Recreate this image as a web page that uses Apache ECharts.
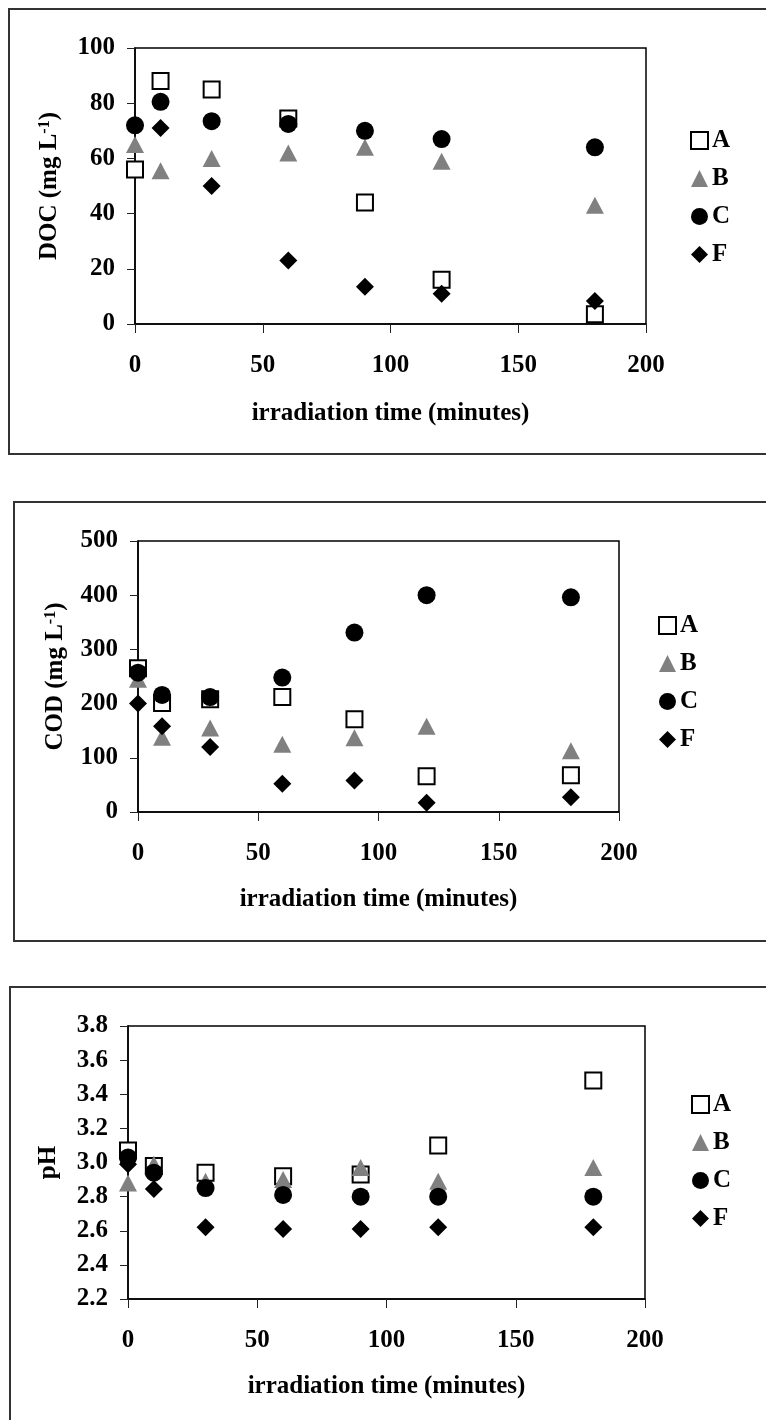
<!DOCTYPE html>
<html>
<head>
<meta charset="utf-8">
<script src="https://cdn.jsdelivr.net/npm/echarts@6/dist/echarts.min.js"></script>
<style>
html,body{margin:0;padding:0;background:#fff;}
#c{width:766px;height:1420px;}
</style>
</head>
<body>
<div id="c"></div>
<script>
// ---- data ----
var times = [0, 10, 30, 60, 90, 120, 180];
var seriesNames = ['A', 'B', 'C', 'F'];
var xTicks = [0, 50, 100, 150, 200];

var docA = [56, 88, 85, 74.5, 44, 16, 3.5];
var docB = [65, 55.5, 60, 62, 64, 59, 43];
var docC = [72, 80.5, 73.5, 72.5, 70, 67, 64];
var docF = [72, 71, 50, 23, 13.5, 11, 8.3];

var codA = [265, 201, 208, 212, 171, 66, 68];
var codB = [245, 138, 155, 125, 137, 158, 113];
var codC = [257, 216, 212, 248, 331, 400, 396];
var codF = [200, 158, 120, 52, 58, 17, 27];

var phA = [3.07, 2.98, 2.94, 2.92, 2.93, 3.10, 3.48];
var phB = [2.88, 2.99, 2.89, 2.90, 2.97, 2.89, 2.97];
var phC = [3.03, 2.94, 2.85, 2.81, 2.80, 2.80, 2.80];
var phF = [2.99, 2.845, 2.62, 2.61, 2.61, 2.62, 2.62];

var docTicks = [0, 20, 40, 60, 80, 100];
var codTicks = [0, 100, 200, 300, 400, 500];
var phTicks = [2.2, 2.4, 2.6, 2.8, 3.0, 3.2, 3.4, 3.6, 3.8];

// ---- styles ----
var FF = '"Liberation Serif", "Times New Roman", serif';
var FS = 25;
var markerStyles = {
  A: {symbol: 'rect', symbolSize: 16, itemStyle: {color: '#ffffff', borderColor: '#000000', borderWidth: 2, opacity: 1}},
  B: {symbol: 'triangle', symbolSize: [18, 17], itemStyle: {color: '#808080', opacity: 1}},
  C: {symbol: 'circle', symbolSize: 18, itemStyle: {color: '#000000', opacity: 1}},
  F: {symbol: 'diamond', symbolSize: 18, itemStyle: {color: '#000000', opacity: 1}}
};

function pairs(arr) { return times.map(function (t, i) { return [t, arr[i]]; }); }

var panels = [
  {grid: {left: 135, top: 48, width: 511, height: 276}, ticks: docTicks, dec: 0,
   yName: '{b|DOC (mg L}{s|-1}{b|)}', yGap: 72, xGap: 77, legendLeft: 690, legendTop: 128,
   data: [docA, docB, docC, docF]},
  {grid: {left: 138, top: 541, width: 481, height: 271}, ticks: codTicks, dec: 0,
   yName: '{b|COD (mg L}{s|-1}{b|)}', yGap: 69, xGap: 75, legendLeft: 658, legendTop: 613,
   data: [codA, codB, codC, codF]},
  {grid: {left: 128, top: 1026, width: 517, height: 273}, ticks: phTicks, dec: 1,
   yName: '{b|pH}', yGap: 66, xGap: 75, legendLeft: 691, legendTop: 1092,
   data: [phA, phB, phC, phF]}
];

var grids = [], xAxes = [], yAxes = [], series = [], legends = [];
var tickColor = '#222';

panels.forEach(function (p, gi) {
  grids.push(Object.assign({show: true, borderColor: '#000', borderWidth: 1.5,
    backgroundColor: '#fff', containLabel: false, outerBoundsMode: 'none'}, p.grid));
  xAxes.push({
    gridIndex: gi, type: 'value', min: xTicks[0], max: xTicks[xTicks.length - 1],
    interval: xTicks[1] - xTicks[0],
    name: 'irradiation time (minutes)', nameLocation: 'middle', nameGap: p.xGap,
    nameTextStyle: {fontFamily: FF, fontSize: FS, fontWeight: 'bold', color: '#000'},
    axisLine: {show: true, onZero: false, lineStyle: {color: '#000', width: 1.5}},
    axisTick: {show: true, inside: false, length: 9, lineStyle: {color: tickColor, width: 1}},
    axisLabel: {margin: 29, fontFamily: FF, fontSize: FS, fontWeight: 'bold', color: '#000',
      showMinLabel: true, showMaxLabel: true},
    splitLine: {show: false}
  });
  var t = p.ticks;
  yAxes.push({
    gridIndex: gi, type: 'value', min: t[0], max: t[t.length - 1],
    interval: +(t[1] - t[0]).toFixed(4),
    name: p.yName, nameLocation: 'middle', nameGap: p.yGap,
    nameTextStyle: {fontFamily: FF, fontSize: FS, fontWeight: 'bold', color: '#000',
      rich: {
        b: {fontFamily: FF, fontSize: FS, fontWeight: 'bold', color: '#000', lineHeight: 26},
        s: {fontFamily: FF, fontSize: 16, fontWeight: 'bold', color: '#000', verticalAlign: 'top', lineHeight: 26}
      }},
    axisLine: {show: true, onZero: false, lineStyle: {color: '#000', width: 1.5}},
    axisTick: {show: true, inside: false, length: 8, lineStyle: {color: tickColor, width: 1}},
    axisLabel: {margin: 20, fontFamily: FF, fontSize: FS, fontWeight: 'bold', color: '#000',
      showMinLabel: true, showMaxLabel: true,
      formatter: function (v) { return (+v).toFixed(p.dec); }},
    splitLine: {show: false}
  });
  seriesNames.forEach(function (nm, si) {
    var ms = markerStyles[nm];
    series.push({
      type: 'scatter', name: nm, xAxisIndex: gi, yAxisIndex: gi,
      symbol: ms.symbol, symbolSize: ms.symbolSize, itemStyle: ms.itemStyle,
      data: pairs(p.data[si]), z: 2 + si, silent: true, animation: false,
      emphasis: {disabled: true}
    });
  });
  legends.push({
    orient: 'vertical', left: p.legendLeft, top: p.legendTop, padding: 0,
    itemWidth: 17, itemHeight: 17, itemGap: 13, selectedMode: false,
    textStyle: {fontFamily: FF, fontSize: FS, fontWeight: 'bold', color: '#000', lineHeight: 25, padding: [0, 0, 0, -1]},
    data: seriesNames.map(function (nm) {
      var ms = markerStyles[nm];
      return {name: nm, icon: ms.symbol, itemStyle: ms.itemStyle};
    })
  });
});

var chart = echarts.init(document.getElementById('c'), null, {renderer: 'canvas', width: 766, height: 1420});
chart.setOption({
  backgroundColor: '#ffffff',
  animation: false,
  grid: grids, xAxis: xAxes, yAxis: yAxes, series: series, legend: legends,
  graphic: [
    {type: 'rect', silent: true, z: -10, shape: {x: 9, y: 9, width: 800, height: 445},
     style: {fill: 'none', stroke: '#333', lineWidth: 2}},
    {type: 'rect', silent: true, z: -10, shape: {x: 14, y: 502, width: 800, height: 439},
     style: {fill: 'none', stroke: '#333', lineWidth: 2}},
    {type: 'rect', silent: true, z: -10, shape: {x: 10, y: 987, width: 800, height: 500},
     style: {fill: 'none', stroke: '#333', lineWidth: 2}}
  ]
});
</script>
</body>
</html>
